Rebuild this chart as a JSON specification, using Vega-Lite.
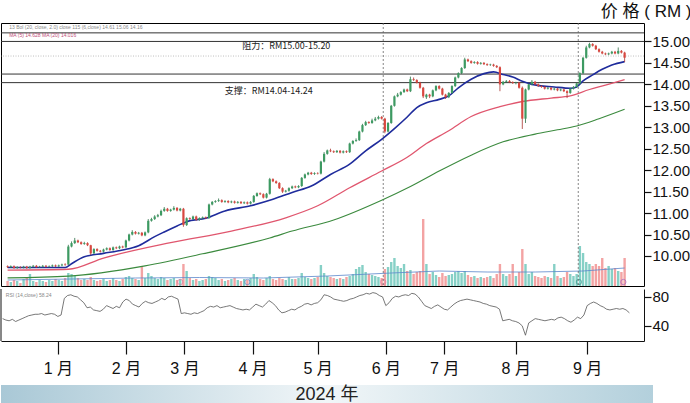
{
"$schema": "https://vega.github.io/schema/vega-lite/v6.json",
"padding": {"left": 0, "top": 1, "right": 0, "bottom": 0},
"background": "white",
"config": {
  "view": {"stroke": "#000", "strokeWidth": 1},
  "axis": {"labelFont": "Liberation Sans, Noto Sans CJK SC", "titleFont": "Liberation Sans, Noto Sans CJK SC", "labelColor": "#111", "tickColor": "#111", "domainColor": "#111", "grid": false}
},
"datasets": {
"candles": [
{"i":0,"o":9.76,"c":9.74,"h":9.78,"l":9.72,"v":0.5,"r":50},
{"i":1,"o":9.74,"c":9.76,"h":9.78,"l":9.72,"v":0.4,"r":48},
{"i":2,"o":9.76,"c":9.72,"h":9.78,"l":9.70,"v":0.6,"r":47},
{"i":3,"o":9.72,"c":9.74,"h":9.76,"l":9.70,"v":0.5,"r":49},
{"i":4,"o":9.74,"c":9.73,"h":9.76,"l":9.71,"v":0.3,"r":46},
{"i":5,"o":9.73,"c":9.75,"h":9.77,"l":9.71,"v":0.7,"r":48},
{"i":6,"o":9.75,"c":9.72,"h":9.77,"l":9.70,"v":0.8,"r":50},
{"i":7,"o":9.72,"c":9.75,"h":9.77,"l":9.70,"v":1.2,"r":52},
{"i":8,"o":9.75,"c":9.77,"h":9.79,"l":9.73,"v":0.5,"r":54},
{"i":9,"o":9.77,"c":9.74,"h":9.79,"l":9.72,"v":0.4,"r":55},
{"i":10,"o":9.74,"c":9.75,"h":9.77,"l":9.72,"v":0.6,"r":56},
{"i":11,"o":9.75,"c":9.77,"h":9.79,"l":9.73,"v":0.5,"r":56},
{"i":12,"o":9.77,"c":9.75,"h":9.79,"l":9.73,"v":0.4,"r":57},
{"i":13,"o":9.75,"c":9.76,"h":9.78,"l":9.73,"v":0.6,"r":55},
{"i":14,"o":9.76,"c":9.78,"h":9.80,"l":9.74,"v":0.5,"r":56},
{"i":15,"o":9.78,"c":9.76,"h":9.80,"l":9.74,"v":0.7,"r":57},
{"i":16,"o":9.76,"c":9.78,"h":9.80,"l":9.74,"v":0.6,"r":56},
{"i":17,"o":9.78,"c":9.80,"h":9.82,"l":9.76,"v":0.5,"r":53},
{"i":18,"o":9.80,"c":9.79,"h":9.83,"l":9.77,"v":0.8,"r":55},
{"i":19,"o":9.80,"c":10.22,"h":10.26,"l":9.79,"v":1.3,"r":78},
{"i":20,"o":10.22,"c":10.30,"h":10.34,"l":10.20,"v":1.2,"r":82},
{"i":21,"o":10.30,"c":10.36,"h":10.42,"l":10.28,"v":1.0,"r":83},
{"i":22,"o":10.36,"c":10.32,"h":10.38,"l":10.30,"v":0.8,"r":81},
{"i":23,"o":10.32,"c":10.28,"h":10.34,"l":10.26,"v":0.6,"r":80},
{"i":24,"o":10.28,"c":10.30,"h":10.33,"l":10.26,"v":0.7,"r":76},
{"i":25,"o":10.30,"c":10.25,"h":10.32,"l":10.23,"v":0.6,"r":72},
{"i":26,"o":10.25,"c":10.06,"h":10.26,"l":10.02,"v":0.9,"r":65},
{"i":27,"o":10.06,"c":10.16,"h":10.18,"l":10.05,"v":0.6,"r":66},
{"i":28,"o":10.16,"c":10.12,"h":10.18,"l":10.10,"v":0.5,"r":62},
{"i":29,"o":10.12,"c":10.10,"h":10.14,"l":10.08,"v":0.6,"r":61},
{"i":30,"o":10.10,"c":10.15,"h":10.17,"l":10.08,"v":0.7,"r":60},
{"i":31,"o":10.15,"c":10.18,"h":10.20,"l":10.13,"v":0.5,"r":63},
{"i":32,"o":10.18,"c":10.14,"h":10.20,"l":10.12,"v":0.6,"r":68},
{"i":33,"o":10.14,"c":10.20,"h":10.22,"l":10.12,"v":0.8,"r":66},
{"i":34,"o":10.20,"c":10.18,"h":10.22,"l":10.16,"v":0.6,"r":64},
{"i":35,"o":10.18,"c":10.22,"h":10.24,"l":10.16,"v":0.5,"r":67},
{"i":36,"o":10.22,"c":10.20,"h":10.24,"l":10.18,"v":0.7,"r":65},
{"i":37,"o":10.20,"c":10.36,"h":10.38,"l":10.19,"v":0.9,"r":73},
{"i":38,"o":10.36,"c":10.50,"h":10.52,"l":10.34,"v":1.0,"r":77},
{"i":39,"o":10.50,"c":10.56,"h":10.60,"l":10.48,"v":0.8,"r":75},
{"i":40,"o":10.56,"c":10.52,"h":10.58,"l":10.50,"v":0.7,"r":70},
{"i":41,"o":10.52,"c":10.54,"h":10.56,"l":10.50,"v":0.6,"r":68},
{"i":42,"o":10.54,"c":10.48,"h":10.56,"l":10.46,"v":2.0,"r":66},
{"i":43,"o":10.48,"c":10.55,"h":10.57,"l":10.46,"v":0.8,"r":71},
{"i":44,"o":10.55,"c":10.82,"h":10.86,"l":10.53,"v":1.3,"r":74},
{"i":45,"o":10.82,"c":10.86,"h":10.89,"l":10.80,"v":1.0,"r":72},
{"i":46,"o":10.86,"c":10.92,"h":10.95,"l":10.84,"v":0.8,"r":71},
{"i":47,"o":10.92,"c":10.95,"h":10.98,"l":10.90,"v":0.7,"r":73},
{"i":48,"o":10.95,"c":11.05,"h":11.08,"l":10.93,"v":0.9,"r":75},
{"i":49,"o":11.05,"c":11.10,"h":11.14,"l":11.03,"v":0.8,"r":78},
{"i":50,"o":11.10,"c":11.05,"h":11.12,"l":11.03,"v":0.6,"r":76},
{"i":51,"o":11.05,"c":11.08,"h":11.10,"l":11.03,"v":0.7,"r":80},
{"i":52,"o":11.08,"c":11.12,"h":11.16,"l":11.06,"v":0.8,"r":81},
{"i":53,"o":11.12,"c":11.06,"h":11.14,"l":11.04,"v":0.6,"r":79},
{"i":54,"o":11.06,"c":11.10,"h":11.12,"l":11.04,"v":0.7,"r":77},
{"i":55,"o":11.10,"c":10.72,"h":11.12,"l":10.68,"v":2.2,"r":57},
{"i":56,"o":10.72,"c":10.88,"h":10.90,"l":10.70,"v":1.5,"r":58},
{"i":57,"o":10.88,"c":10.86,"h":10.90,"l":10.84,"v":0.8,"r":57},
{"i":58,"o":10.86,"c":10.92,"h":10.94,"l":10.84,"v":0.6,"r":56},
{"i":59,"o":10.92,"c":10.84,"h":10.94,"l":10.82,"v":0.7,"r":58},
{"i":60,"o":10.84,"c":10.88,"h":10.90,"l":10.82,"v":0.5,"r":57},
{"i":61,"o":10.88,"c":10.90,"h":10.92,"l":10.86,"v":0.6,"r":59},
{"i":62,"o":10.90,"c":10.88,"h":10.92,"l":10.86,"v":0.7,"r":61},
{"i":63,"o":10.88,"c":11.20,"h":11.22,"l":10.87,"v":1.0,"r":65},
{"i":64,"o":11.20,"c":11.26,"h":11.28,"l":11.18,"v":0.9,"r":67},
{"i":65,"o":11.26,"c":11.28,"h":11.30,"l":11.24,"v":0.8,"r":66},
{"i":66,"o":11.28,"c":11.30,"h":11.34,"l":11.26,"v":0.6,"r":68},
{"i":67,"o":11.30,"c":11.26,"h":11.32,"l":11.24,"v":0.7,"r":65},
{"i":68,"o":11.26,"c":11.28,"h":11.30,"l":11.24,"v":0.5,"r":66},
{"i":69,"o":11.28,"c":11.25,"h":11.30,"l":11.23,"v":0.6,"r":67},
{"i":70,"o":11.25,"c":11.27,"h":11.29,"l":11.23,"v":0.7,"r":68},
{"i":71,"o":11.27,"c":11.24,"h":11.29,"l":11.22,"v":0.8,"r":66},
{"i":72,"o":11.24,"c":11.26,"h":11.28,"l":11.22,"v":0.6,"r":64},
{"i":73,"o":11.26,"c":11.23,"h":11.28,"l":11.21,"v":0.5,"r":63},
{"i":74,"o":11.23,"c":11.25,"h":11.27,"l":11.21,"v":0.7,"r":62},
{"i":75,"o":11.25,"c":11.22,"h":11.27,"l":11.20,"v":0.6,"r":63},
{"i":76,"o":11.22,"c":11.26,"h":11.28,"l":11.20,"v":0.8,"r":62},
{"i":77,"o":11.26,"c":11.40,"h":11.42,"l":11.24,"v":1.2,"r":66},
{"i":78,"o":11.40,"c":11.46,"h":11.48,"l":11.38,"v":0.9,"r":70},
{"i":79,"o":11.46,"c":11.44,"h":11.48,"l":11.42,"v":0.7,"r":68},
{"i":80,"o":11.44,"c":11.36,"h":11.46,"l":11.34,"v":0.6,"r":66},
{"i":81,"o":11.36,"c":11.45,"h":11.47,"l":11.34,"v":0.8,"r":70},
{"i":82,"o":11.45,"c":11.79,"h":11.82,"l":11.43,"v":1.0,"r":75},
{"i":83,"o":11.79,"c":11.74,"h":11.81,"l":11.72,"v":0.7,"r":72},
{"i":84,"o":11.74,"c":11.70,"h":11.76,"l":11.68,"v":0.6,"r":68},
{"i":85,"o":11.70,"c":11.58,"h":11.72,"l":11.56,"v":0.8,"r":62},
{"i":86,"o":11.58,"c":11.50,"h":11.60,"l":11.47,"v":0.7,"r":58},
{"i":87,"o":11.50,"c":11.52,"h":11.54,"l":11.48,"v":0.6,"r":59},
{"i":88,"o":11.52,"c":11.58,"h":11.60,"l":11.50,"v":0.9,"r":61},
{"i":89,"o":11.58,"c":11.62,"h":11.64,"l":11.56,"v":0.7,"r":63},
{"i":90,"o":11.62,"c":11.60,"h":11.64,"l":11.58,"v":0.7,"r":62},
{"i":91,"o":11.60,"c":11.63,"h":11.65,"l":11.58,"v":0.8,"r":65},
{"i":92,"o":11.63,"c":11.82,"h":11.84,"l":11.61,"v":1.3,"r":67},
{"i":93,"o":11.82,"c":11.90,"h":11.92,"l":11.80,"v":0.9,"r":70},
{"i":94,"o":11.90,"c":11.94,"h":11.96,"l":11.88,"v":0.8,"r":71},
{"i":95,"o":11.94,"c":11.91,"h":11.96,"l":11.89,"v":0.7,"r":69},
{"i":96,"o":11.91,"c":11.93,"h":11.95,"l":11.89,"v":0.8,"r":71},
{"i":97,"o":11.93,"c":11.92,"h":11.95,"l":11.90,"v":0.9,"r":72},
{"i":98,"o":11.92,"c":12.20,"h":12.22,"l":11.90,"v":2.1,"r":76},
{"i":99,"o":12.20,"c":12.38,"h":12.42,"l":12.18,"v":1.3,"r":83},
{"i":100,"o":12.38,"c":12.46,"h":12.48,"l":12.36,"v":1.0,"r":82},
{"i":101,"o":12.46,"c":12.44,"h":12.50,"l":12.42,"v":0.9,"r":80},
{"i":102,"o":12.44,"c":12.42,"h":12.46,"l":12.40,"v":0.8,"r":77},
{"i":103,"o":12.42,"c":12.45,"h":12.47,"l":12.40,"v":0.7,"r":76},
{"i":104,"o":12.45,"c":12.41,"h":12.47,"l":12.39,"v":0.8,"r":75},
{"i":105,"o":12.41,"c":12.44,"h":12.46,"l":12.39,"v":0.7,"r":74},
{"i":106,"o":12.44,"c":12.42,"h":12.46,"l":12.40,"v":0.9,"r":75},
{"i":107,"o":12.42,"c":12.62,"h":12.64,"l":12.40,"v":1.0,"r":77},
{"i":108,"o":12.62,"c":12.68,"h":12.70,"l":12.60,"v":1.2,"r":78},
{"i":109,"o":12.68,"c":12.70,"h":12.74,"l":12.66,"v":1.7,"r":80},
{"i":110,"o":12.70,"c":12.90,"h":12.92,"l":12.68,"v":1.9,"r":82},
{"i":111,"o":12.90,"c":13.05,"h":13.08,"l":12.88,"v":2.1,"r":83},
{"i":112,"o":13.05,"c":13.12,"h":13.15,"l":13.03,"v":1.4,"r":85},
{"i":113,"o":13.12,"c":13.10,"h":13.14,"l":13.08,"v":1.2,"r":84},
{"i":114,"o":13.10,"c":13.16,"h":13.20,"l":13.08,"v":1.1,"r":86},
{"i":115,"o":13.16,"c":13.20,"h":13.24,"l":13.14,"v":1.0,"r":85},
{"i":116,"o":13.20,"c":13.24,"h":13.27,"l":13.18,"v":0.9,"r":82},
{"i":117,"o":13.24,"c":13.20,"h":13.26,"l":13.18,"v":0.8,"r":80},
{"i":118,"o":13.20,"c":12.90,"h":13.22,"l":12.86,"v":1.7,"r":68},
{"i":119,"o":12.90,"c":13.10,"h":13.12,"l":12.88,"v":1.9,"r":72},
{"i":120,"o":13.10,"c":13.50,"h":13.52,"l":13.08,"v":2.4,"r":78},
{"i":121,"o":13.50,"c":13.72,"h":13.74,"l":13.48,"v":2.8,"r":81},
{"i":122,"o":13.72,"c":13.76,"h":13.80,"l":13.70,"v":2.0,"r":80},
{"i":123,"o":13.76,"c":13.82,"h":13.84,"l":13.74,"v":1.8,"r":82},
{"i":124,"o":13.82,"c":13.88,"h":13.90,"l":13.80,"v":2.2,"r":83},
{"i":125,"o":13.88,"c":13.84,"h":13.90,"l":13.82,"v":1.5,"r":82},
{"i":126,"o":13.84,"c":14.12,"h":14.18,"l":13.82,"v":1.6,"r":85},
{"i":127,"o":14.12,"c":14.10,"h":14.16,"l":14.08,"v":1.2,"r":84},
{"i":128,"o":14.10,"c":14.04,"h":14.12,"l":14.02,"v":1.4,"r":80},
{"i":129,"o":14.04,"c":13.92,"h":14.06,"l":13.90,"v":1.5,"r":74},
{"i":130,"o":13.92,"c":13.72,"h":13.94,"l":13.68,"v":6.7,"r":68},
{"i":131,"o":13.70,"c":13.76,"h":13.78,"l":13.66,"v":2.2,"r":66},
{"i":132,"o":13.76,"c":13.72,"h":13.78,"l":13.68,"v":1.2,"r":64},
{"i":133,"o":13.72,"c":13.86,"h":13.88,"l":13.70,"v":1.4,"r":67},
{"i":134,"o":13.86,"c":13.96,"h":13.98,"l":13.84,"v":1.1,"r":69},
{"i":135,"o":13.96,"c":13.90,"h":13.98,"l":13.88,"v":0.9,"r":66},
{"i":136,"o":13.90,"c":13.76,"h":13.92,"l":13.74,"v":1.3,"r":63},
{"i":137,"o":13.76,"c":13.70,"h":13.78,"l":13.66,"v":1.0,"r":62},
{"i":138,"o":13.70,"c":13.80,"h":13.82,"l":13.68,"v":1.1,"r":66},
{"i":139,"o":13.80,"c":13.96,"h":13.98,"l":13.78,"v":1.2,"r":70},
{"i":140,"o":13.96,"c":14.16,"h":14.18,"l":13.94,"v":1.4,"r":73},
{"i":141,"o":14.16,"c":14.26,"h":14.28,"l":14.14,"v":1.5,"r":75},
{"i":142,"o":14.26,"c":14.38,"h":14.40,"l":14.24,"v":1.3,"r":76},
{"i":143,"o":14.38,"c":14.58,"h":14.62,"l":14.36,"v":1.5,"r":77},
{"i":144,"o":14.58,"c":14.54,"h":14.60,"l":14.52,"v":1.1,"r":76},
{"i":145,"o":14.54,"c":14.50,"h":14.56,"l":14.48,"v":0.9,"r":75},
{"i":146,"o":14.50,"c":14.52,"h":14.54,"l":14.48,"v":1.0,"r":74},
{"i":147,"o":14.52,"c":14.48,"h":14.54,"l":14.46,"v":0.8,"r":73},
{"i":148,"o":14.48,"c":14.50,"h":14.52,"l":14.46,"v":0.9,"r":71},
{"i":149,"o":14.50,"c":14.47,"h":14.52,"l":14.45,"v":0.8,"r":70},
{"i":150,"o":14.47,"c":14.45,"h":14.49,"l":14.43,"v":0.9,"r":68},
{"i":151,"o":14.45,"c":14.46,"h":14.48,"l":14.43,"v":1.0,"r":67},
{"i":152,"o":14.46,"c":14.43,"h":14.48,"l":14.41,"v":0.8,"r":66},
{"i":153,"o":14.43,"c":14.40,"h":14.45,"l":14.38,"v":1.2,"r":63},
{"i":154,"o":14.40,"c":14.00,"h":14.42,"l":13.84,"v":2.2,"r":47},
{"i":155,"o":14.00,"c":14.06,"h":14.08,"l":13.98,"v":1.2,"r":48},
{"i":156,"o":14.06,"c":14.08,"h":14.10,"l":14.04,"v":1.0,"r":49},
{"i":157,"o":14.08,"c":14.05,"h":14.10,"l":14.03,"v":1.2,"r":47},
{"i":158,"o":14.05,"c":14.03,"h":14.07,"l":14.01,"v":2.2,"r":46},
{"i":159,"o":14.03,"c":14.04,"h":14.06,"l":14.00,"v":1.0,"r":44},
{"i":160,"o":14.04,"c":13.92,"h":14.06,"l":13.90,"v":1.4,"r":40},
{"i":161,"o":13.92,"c":13.20,"h":13.95,"l":12.96,"v":3.7,"r":27},
{"i":162,"o":13.20,"c":13.88,"h":13.90,"l":13.10,"v":2.2,"r":44},
{"i":163,"o":13.88,"c":14.00,"h":14.02,"l":13.86,"v":1.2,"r":47},
{"i":164,"o":14.00,"c":14.06,"h":14.10,"l":13.98,"v":1.4,"r":50},
{"i":165,"o":14.06,"c":14.00,"h":14.08,"l":13.98,"v":1.0,"r":49},
{"i":166,"o":14.00,"c":13.96,"h":14.02,"l":13.94,"v":0.9,"r":48},
{"i":167,"o":13.96,"c":13.94,"h":13.98,"l":13.92,"v":0.8,"r":47},
{"i":168,"o":13.94,"c":13.90,"h":13.96,"l":13.88,"v":1.0,"r":48},
{"i":169,"o":13.90,"c":13.92,"h":13.94,"l":13.88,"v":0.9,"r":49},
{"i":170,"o":13.92,"c":13.88,"h":13.94,"l":13.86,"v":0.8,"r":48},
{"i":171,"o":13.88,"c":13.90,"h":13.92,"l":13.86,"v":2.2,"r":51},
{"i":172,"o":13.90,"c":13.86,"h":13.92,"l":13.84,"v":1.0,"r":52},
{"i":173,"o":13.86,"c":13.88,"h":13.90,"l":13.84,"v":0.8,"r":50},
{"i":174,"o":13.88,"c":13.84,"h":13.90,"l":13.82,"v":0.9,"r":47},
{"i":175,"o":13.84,"c":13.80,"h":13.86,"l":13.68,"v":1.4,"r":45},
{"i":176,"o":13.80,"c":13.90,"h":13.92,"l":13.78,"v":1.2,"r":48},
{"i":177,"o":13.90,"c":13.94,"h":13.96,"l":13.88,"v":1.0,"r":52},
{"i":178,"o":13.94,"c":14.02,"h":14.04,"l":13.92,"v":1.2,"r":50},
{"i":179,"o":14.02,"c":14.26,"h":14.28,"l":14.00,"v":4.0,"r":55},
{"i":180,"o":14.26,"c":14.62,"h":14.64,"l":14.24,"v":3.3,"r":68},
{"i":181,"o":14.62,"c":14.86,"h":14.90,"l":14.60,"v":2.4,"r":71},
{"i":182,"o":14.86,"c":14.94,"h":14.97,"l":14.84,"v":2.2,"r":73},
{"i":183,"o":14.94,"c":14.90,"h":14.96,"l":14.88,"v":2.0,"r":71},
{"i":184,"o":14.90,"c":14.82,"h":14.92,"l":14.80,"v":2.2,"r":68},
{"i":185,"o":14.82,"c":14.76,"h":14.84,"l":14.74,"v":2.0,"r":66},
{"i":186,"o":14.76,"c":14.72,"h":14.78,"l":14.70,"v":2.8,"r":63},
{"i":187,"o":14.72,"c":14.70,"h":14.74,"l":14.68,"v":1.8,"r":62},
{"i":188,"o":14.70,"c":14.72,"h":14.74,"l":14.68,"v":2.0,"r":63},
{"i":189,"o":14.72,"c":14.76,"h":14.78,"l":14.70,"v":1.7,"r":64},
{"i":190,"o":14.76,"c":14.72,"h":14.78,"l":14.70,"v":1.8,"r":63},
{"i":191,"o":14.72,"c":14.78,"h":14.86,"l":14.70,"v":1.5,"r":64},
{"i":192,"o":14.78,"c":14.74,"h":14.80,"l":14.72,"v":1.4,"r":62},
{"i":193,"o":14.74,"c":14.62,"h":14.76,"l":14.52,"v":2.8,"r":58}
],
"blue": [
{"i":0,"p":9.73},{"i":18,"p":9.73},{"i":20,"p":9.82},{"i":24,"p":9.98},{"i":30,"p":10.06},{"i":36,"p":10.14},{"i":41,"p":10.24},{"i":46,"p":10.45},{"i":49,"p":10.56},{"i":53,"p":10.70},{"i":56,"p":10.80},{"i":62,"p":10.88},{"i":68,"p":11.05},{"i":76,"p":11.17},{"i":83,"p":11.32},{"i":89,"p":11.48},{"i":95,"p":11.63},{"i":101,"p":11.90},{"i":107,"p":12.14},{"i":112,"p":12.45},{"i":117,"p":12.72},{"i":121,"p":12.97},{"i":125,"p":13.24},{"i":128,"p":13.46},{"i":131,"p":13.57},{"i":135,"p":13.65},{"i":138,"p":13.73},{"i":141,"p":13.92},{"i":145,"p":14.12},{"i":149,"p":14.25},{"i":152,"p":14.29},{"i":155,"p":14.23},{"i":158,"p":14.17},{"i":161,"p":14.07},{"i":164,"p":14.00},{"i":171,"p":13.94},{"i":176,"p":13.91},{"i":178,"p":13.94},{"i":180,"p":14.08},{"i":183,"p":14.22},{"i":186,"p":14.35},{"i":189,"p":14.45},{"i":193,"p":14.53}
],
"red": [
{"i":0,"p":9.67},{"i":19,"p":9.69},{"i":30,"p":9.95},{"i":51,"p":10.31},{"i":70,"p":10.58},{"i":87,"p":10.89},{"i":97,"p":11.17},{"i":107,"p":11.59},{"i":117,"p":11.98},{"i":125,"p":12.30},{"i":131,"p":12.62},{"i":138,"p":12.92},{"i":145,"p":13.25},{"i":154,"p":13.48},{"i":161,"p":13.60},{"i":170,"p":13.68},{"i":176,"p":13.73},{"i":182,"p":13.88},{"i":187,"p":13.98},{"i":193,"p":14.11}
],
"green": [
{"i":0,"p":9.49},{"i":19,"p":9.53},{"i":43,"p":9.77},{"i":61,"p":10.05},{"i":82,"p":10.42},{"i":89,"p":10.58},{"i":102,"p":10.84},{"i":117,"p":11.30},{"i":126,"p":11.62},{"i":135,"p":11.98},{"i":145,"p":12.35},{"i":155,"p":12.66},{"i":165,"p":12.84},{"i":172,"p":12.94},{"i":178,"p":13.03},{"i":185,"p":13.20},{"i":193,"p":13.42}
],
"vma": [
{"i":0,"v":0.6},{"i":20,"v":0.7},{"i":40,"v":0.8},{"i":60,"v":0.85},{"i":80,"v":0.8},{"i":100,"v":1.0},{"i":120,"v":1.3},{"i":135,"v":1.5},{"i":150,"v":1.4},{"i":165,"v":1.4},{"i":180,"v":1.5},{"i":193,"v":1.8}
],
"events": [
{"i":54,"v":0.4,"col":"#e07aa0"},{"i":75,"v":0.4,"col":"#5a7ec8"},{"i":117.5,"v":0.4,"col":"#e07aa0"},{"i":178.7,"v":0.4,"col":"#3a9a8a"},{"i":192.6,"v":0.4,"col":"#a060c0"}
]
},
"spacing": 9,
"vconcat": [
{
"spacing": 0,
"vconcat": [
{
"width": 643,
"height": 263,
"resolve": {"scale": {"y": "independent"}},
"layer": [
{"data": {"name": "candles"}, "mark": {"type": "bar", "size": 2.4},
 "encoding": {
  "x": {"field": "i", "type": "quantitative", "scale": {"domain": [-0.5, 197.5], "nice": false, "zero": false}, "axis": null},
  "y": {"field": "v", "type": "quantitative", "scale": {"domain": [0, 26.3], "nice": false}, "axis": null},
  "color": {"condition": {"test": "datum.c >= datum.o", "value": "#86d0c6"}, "value": "#f3a3a3"}}},
{"data": {"name": "vma"}, "mark": {"type": "line", "color": "#5a86cc", "strokeWidth": 0.8},
 "encoding": {
  "x": {"field": "i", "type": "quantitative", "scale": {"domain": [-0.5, 197.5], "nice": false, "zero": false}, "axis": null},
  "y": {"field": "v", "type": "quantitative", "scale": {"domain": [0, 26.3], "nice": false}, "axis": null}}},
{"data": {"name": "events"}, "mark": {"type": "point", "shape": "circle", "size": 28, "filled": false, "strokeWidth": 1},
 "encoding": {
  "x": {"field": "i", "type": "quantitative", "scale": {"domain": [-0.5, 197.5], "nice": false, "zero": false}, "axis": null},
  "y": {"field": "v", "type": "quantitative", "scale": {"domain": [0, 26.3], "nice": false}, "axis": null},
  "color": {"field": "col", "type": "nominal", "scale": null}}},
{"data": {"values": [{"p": 15.2}, {"p": 15.0}, {"p": 14.24}, {"p": 14.04}]}, "mark": {"type": "rule", "color": "#333", "strokeWidth": 1},
 "encoding": {"y": {"field": "p", "type": "quantitative", "scale": {"domain": [9.30, 15.43], "nice": false, "zero": false}, "axis": null}}},
{"data": {"values": [{"p": 14.66}]}, "mark": {"type": "rule", "color": "#b0b0b0", "strokeWidth": 0.8, "strokeDash": [1, 1.5]},
 "encoding": {"y": {"field": "p", "type": "quantitative", "scale": {"domain": [9.30, 15.43], "nice": false, "zero": false}, "axis": null}}},
{"data": {"values": [{"i": 117.5}, {"i": 178.5}]}, "mark": {"type": "rule", "color": "#666", "strokeWidth": 0.8, "strokeDash": [2, 2]},
 "encoding": {"x": {"field": "i", "type": "quantitative", "scale": {"domain": [-0.5, 197.5], "nice": false, "zero": false}, "axis": null}}},
{"data": {"name": "green"}, "mark": {"type": "line", "color": "#3b8a3e", "strokeWidth": 1.1, "interpolate": "monotone"},
 "encoding": {
  "x": {"field": "i", "type": "quantitative", "scale": {"domain": [-0.5, 197.5], "nice": false, "zero": false}, "axis": null},
  "y": {"field": "p", "type": "quantitative", "scale": {"domain": [9.30, 15.43], "nice": false, "zero": false}, "axis": null}}},
{"data": {"name": "red"}, "mark": {"type": "line", "color": "#e0566e", "strokeWidth": 1.3, "interpolate": "monotone"},
 "encoding": {
  "x": {"field": "i", "type": "quantitative", "scale": {"domain": [-0.5, 197.5], "nice": false, "zero": false}, "axis": null},
  "y": {"field": "p", "type": "quantitative", "scale": {"domain": [9.30, 15.43], "nice": false, "zero": false}, "axis": null}}},
{"data": {"name": "blue"}, "mark": {"type": "line", "color": "#1f2c9c", "strokeWidth": 1.6, "interpolate": "monotone"},
 "encoding": {
  "x": {"field": "i", "type": "quantitative", "scale": {"domain": [-0.5, 197.5], "nice": false, "zero": false}, "axis": null},
  "y": {"field": "p", "type": "quantitative", "scale": {"domain": [9.30, 15.43], "nice": false, "zero": false}, "axis": null}}},
{"data": {"name": "candles"}, "mark": {"type": "rule", "strokeWidth": 0.8},
 "encoding": {
  "x": {"field": "i", "type": "quantitative", "scale": {"domain": [-0.5, 197.5], "nice": false, "zero": false}, "axis": null},
  "y": {"field": "l", "type": "quantitative", "scale": {"domain": [9.30, 15.43], "nice": false, "zero": false}, "axis": null},
  "y2": {"field": "h"},
  "color": {"condition": {"test": "datum.c >= datum.o", "value": "#2d6f47"}, "value": "#a8352f"}}},
{"data": {"name": "candles"}, "mark": {"type": "bar", "size": 2.2},
 "encoding": {
  "x": {"field": "i", "type": "quantitative", "scale": {"domain": [-0.5, 197.5], "nice": false, "zero": false}, "axis": null},
  "y": {"field": "o", "type": "quantitative", "scale": {"domain": [9.30, 15.43], "nice": false, "zero": false},
   "axis": {"orient": "right", "values": [10, 10.5, 11, 11.5, 12, 12.5, 13, 13.5, 14, 14.5, 15], "format": ".2f", "tickSize": 7, "tickWidth": 1.2, "labelFontSize": 15, "labelPadding": 1, "domain": false,
    "title": "价 格 ( RM )", "titleAngle": 0, "titleAlign": "right", "titleBaseline": "bottom", "titleX": 47, "titleY": -3, "titleFontSize": 17, "titleFontWeight": "normal", "titleColor": "#111"}},
  "y2": {"field": "c"},
  "color": {"condition": {"test": "datum.c >= datum.o", "value": "#3d9a62"}, "value": "#d9473f"}}},
{"data": {"values": [{"i": 73.4, "p": 14.895, "t": "阻力：RM15.00-15.20"}, {"i": 67.9, "p": 13.85, "t": "支撑：RM14.04-14.24"}]},
 "mark": {"type": "text", "align": "left", "baseline": "middle", "fontSize": 9, "font": "Noto Sans CJK SC", "color": "#222"},
 "encoding": {
  "x": {"field": "i", "type": "quantitative", "scale": {"domain": [-0.5, 197.5], "nice": false, "zero": false}, "axis": null},
  "y": {"field": "p", "type": "quantitative", "scale": {"domain": [9.30, 15.43], "nice": false, "zero": false}, "axis": null},
  "text": {"field": "t"}}},
{"data": {"values": [{"i": 0.5, "p": 15.34, "t": "13 Bol (20, close, 2.0)  close 115 (6,close)  14.61  15.06  14.16", "col": "#8a8a8a"}, {"i": 0.5, "p": 15.16, "t": "MA (5)  14.628   MA (20)  14.016", "col": "#c0507a"}]},
 "mark": {"type": "text", "align": "left", "baseline": "middle", "fontSize": 5, "font": "Liberation Sans"},
 "encoding": {
  "x": {"field": "i", "type": "quantitative", "scale": {"domain": [-0.5, 197.5], "nice": false, "zero": false}, "axis": null},
  "y": {"field": "p", "type": "quantitative", "scale": {"domain": [9.30, 15.43], "nice": false, "zero": false}, "axis": null},
  "text": {"field": "t"},
  "color": {"field": "col", "type": "nominal", "scale": null}}},
{"mark": {"type": "rule", "color": "#c8c8c8", "strokeWidth": 1.6},
 "encoding": {"y": {"datum": 9.30, "type": "quantitative", "scale": {"domain": [9.30, 15.43], "nice": false, "zero": false}, "axis": null}}}
]
},
{
"width": 643,
"height": 52,
"view": {"stroke": null},
"resolve": {"axis": {"x": "independent", "y": "independent"}},
"layer": [
{"data": {"values": [{"i": -0.5}]}, "mark": {"type": "rule", "color": "#111", "strokeWidth": 1},
 "encoding": {"x": {"field": "i", "type": "quantitative", "scale": {"domain": [-0.5, 197.5], "nice": false, "zero": false}, "axis": null}}},
{"data": {"name": "candles"}, "mark": {"type": "line", "color": "#555", "strokeWidth": 0.8},
 "encoding": {
  "x": {"field": "i", "type": "quantitative", "scale": {"domain": [-0.5, 197.5], "nice": false, "zero": false},
   "axis": {"values": [17, 38, 56, 77, 97, 118, 136, 158, 180], "labelExpr": "(indexof([17,38,56,77,97,118,136,158,180], datum.value) + 1) + ' 月'", "tickSize": 13, "tickWidth": 1.2, "domain": true, "domainWidth": 1, "labelFontSize": 16, "labelPadding": 6, "title": null, "labelFlush": false}},
  "y": {"field": "r", "type": "quantitative", "scale": {"domain": [19, 91], "nice": false, "zero": false},
   "axis": {"orient": "right", "values": [40, 80], "tickSize": 7, "tickWidth": 1.2, "labelFontSize": 15, "labelPadding": 1, "domain": true, "title": null}}}},
{"data": {"values": [{"i": 1, "r": 83, "t": "RSI (14,close) 58.24"}]},
 "mark": {"type": "text", "align": "left", "baseline": "middle", "fontSize": 5, "font": "Liberation Sans", "color": "#888"},
 "encoding": {
  "x": {"field": "i", "type": "quantitative", "scale": {"domain": [-0.5, 197.5], "nice": false, "zero": false}, "axis": null},
  "y": {"field": "r", "type": "quantitative", "scale": {"domain": [19, 91], "nice": false, "zero": false}, "axis": null},
  "text": {"field": "t"}}}
]
}
]
},
{
"width": 652,
"height": 20,
"view": {"stroke": null},
"layer": [
{"data": {"values": [{}]}, "mark": {"type": "rect", "color": {"gradient": "linear", "x1": 0, "y1": 0, "x2": 1, "y2": 0, "stops": [{"offset": 0, "color": "#a9c8d6"}, {"offset": 0.5, "color": "#f1f6f8"}, {"offset": 1, "color": "#b3d0dc"}]}}, "encoding": {}},
{"data": {"values": [{"t": "2024 年"}]}, "mark": {"type": "text", "fontSize": 18, "font": "Liberation Sans, Noto Sans CJK SC", "color": "#222", "baseline": "middle"},
 "encoding": {"text": {"field": "t"},
  "y": {"datum": 0, "type": "quantitative", "scale": {"domain": [-1, 1]}, "axis": null}}}
]
}
]
}
